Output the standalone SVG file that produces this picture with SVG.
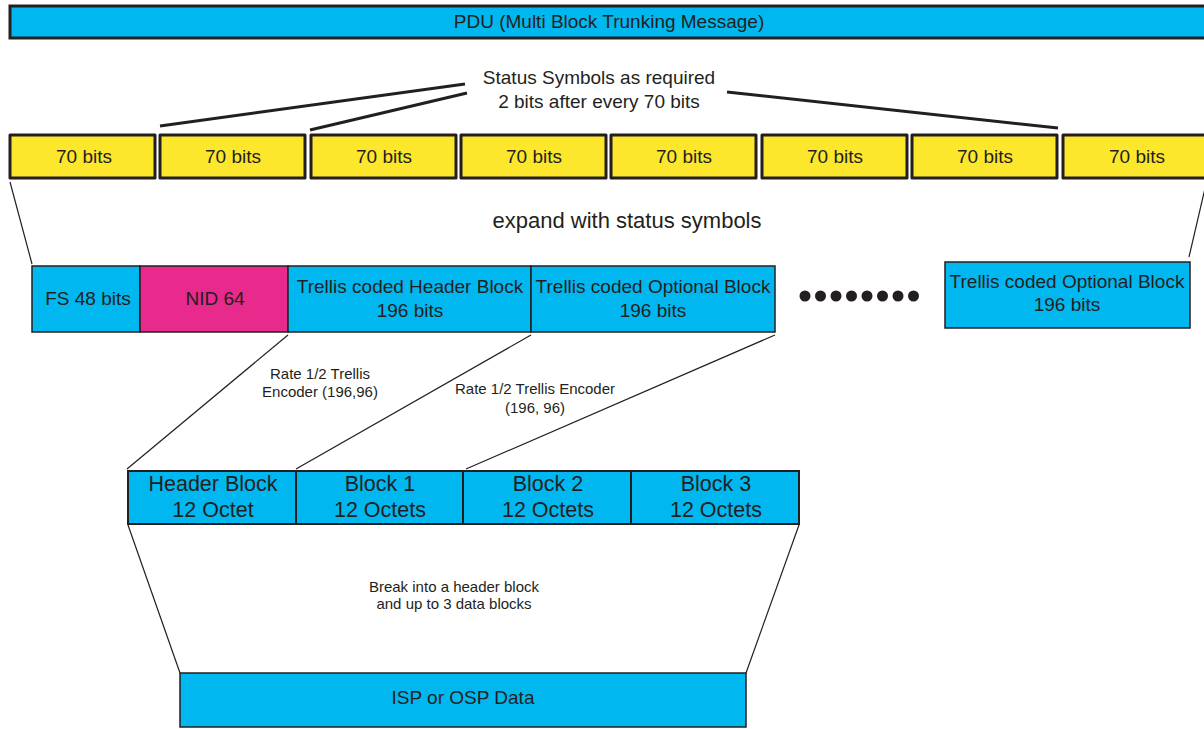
<svg xmlns="http://www.w3.org/2000/svg" width="1204" height="729" viewBox="0 0 1204 729">
<style>
text{font-family:"Liberation Sans",Arial,sans-serif;fill:#231f20;text-anchor:middle}
.cy{fill:#00b7f0;stroke:#231f20}
.ye{fill:#fce72c;stroke:#231f20;stroke-width:3;stroke-linejoin:round}
.mg{fill:#e72a8c;stroke:#231f20}
.thick{stroke:#231f20;stroke-width:3;fill:none}
.thin{stroke:#231f20;stroke-width:1.2;fill:none}
.t19{font-size:19px}
.t21{font-size:21.5px}
.t22{font-size:22px}
.t15{font-size:15px}
</style>
<rect width="1204" height="729" fill="#fff"/>
<g id="pdu"><rect class="cy" x="10" y="6" width="1200" height="32" stroke-width="3"/><text class="t19" x="609" y="28">PDU (Multi Block Trunking Message)</text></g>
<g id="bits">
<rect class="ye" x="10" y="135" width="145" height="43"/><text class="t19" x="84" y="163">70 bits</text>
<rect class="ye" x="160" y="135" width="145" height="43"/><text class="t19" x="233" y="163">70 bits</text>
<rect class="ye" x="311" y="135" width="145" height="43"/><text class="t19" x="384" y="163">70 bits</text>
<rect class="ye" x="461" y="135" width="145" height="43"/><text class="t19" x="534" y="163">70 bits</text>
<rect class="ye" x="611" y="135" width="145" height="43"/><text class="t19" x="684" y="163">70 bits</text>
<rect class="ye" x="762" y="135" width="145" height="43"/><text class="t19" x="835" y="163">70 bits</text>
<rect class="ye" x="912" y="135" width="145" height="43"/><text class="t19" x="985" y="163">70 bits</text>
<rect class="ye" x="1063" y="135" width="160" height="43"/><text class="t19" x="1137" y="163">70 bits</text>
</g>
<g id="status-label"><text class="t19" x="599" y="84">Status Symbols as required</text><text class="t19" x="599" y="108">2 bits after every 70 bits</text></g>
<g id="expand-label"><text class="t22" x="627" y="228">expand with status symbols</text></g>
<g id="fs"><rect class="cy" x="32" y="266" width="108" height="66" stroke-width="1.5"/><text class="t19" x="88" y="305">FS 48 bits</text></g>
<g id="nid"><rect class="mg" x="140" y="266" width="148" height="66" stroke-width="1.5"/><text class="t19" x="215" y="305">NID 64</text></g>
<g id="header-tc"><rect class="cy" x="288" y="266" width="243" height="66" stroke-width="1.5"/><text class="t19" x="410" y="293">Trellis coded Header Block</text><text class="t19" x="410" y="317">196 bits</text></g>
<g id="opt-tc"><rect class="cy" x="531" y="266" width="244" height="66" stroke-width="1.5"/><text class="t19" x="653" y="293">Trellis coded Optional Block</text><text class="t19" x="653" y="317">196 bits</text></g>
<g id="dots" fill="#231f20"><circle cx="805" cy="296" r="5.5"/><circle cx="820.5" cy="296" r="5.5"/><circle cx="836" cy="296" r="5.5"/><circle cx="851.5" cy="296" r="5.5"/><circle cx="867" cy="296" r="5.5"/><circle cx="882.5" cy="296" r="5.5"/><circle cx="898" cy="296" r="5.5"/><circle cx="913.5" cy="296" r="5.5"/></g>
<g id="opt-tc-last"><rect class="cy" x="945" y="262" width="245" height="66" stroke-width="1.5"/><text class="t19" x="1067" y="288">Trellis coded Optional Block</text><text class="t19" x="1067" y="311">196 bits</text></g>
<g id="enc-label-1"><text class="t15" x="320" y="379">Rate 1/2 Trellis</text><text class="t15" x="320" y="397">Encoder (196,96)</text></g>
<g id="enc-label-2"><text class="t15" x="535" y="394">Rate 1/2 Trellis Encoder</text><text class="t15" x="535" y="413">(196, 96)</text></g>
<g id="hb"><rect class="cy" x="128" y="471" width="168" height="53" stroke-width="2"/><text class="t21" x="213" y="491">Header Block</text><text class="t21" x="213" y="517">12 Octet</text></g>
<g id="b1"><rect class="cy" x="296" y="471" width="167" height="53" stroke-width="2"/><text class="t21" x="380" y="491">Block 1</text><text class="t21" x="380" y="517">12 Octets</text></g>
<g id="b2"><rect class="cy" x="463" y="471" width="168" height="53" stroke-width="2"/><text class="t21" x="548" y="491">Block 2</text><text class="t21" x="548" y="517">12 Octets</text></g>
<g id="b3"><rect class="cy" x="631" y="471" width="168" height="53" stroke-width="2"/><text class="t21" x="716" y="491">Block 3</text><text class="t21" x="716" y="517">12 Octets</text></g>
<g id="break-label"><text class="t15" x="454" y="592">Break into a header block</text><text class="t15" x="454" y="609">and up to 3 data blocks</text></g>
<g id="data"><rect class="cy" x="180" y="673" width="566" height="54" stroke-width="1.5"/><text class="t19" x="463" y="704">ISP or OSP Data</text></g>
<g id="connectors">
<line class="thick" x1="160" y1="126" x2="465" y2="84"/>
<line class="thick" x1="310" y1="130" x2="467" y2="93"/>
<line class="thick" x1="727" y1="92" x2="1058" y2="128"/>
<line class="thin" x1="10" y1="182" x2="32" y2="264"/>
<line class="thin" x1="1206" y1="184" x2="1189" y2="257"/>
<line class="thin" x1="288" y1="335" x2="127" y2="469"/>
<line class="thin" x1="531" y1="335" x2="296" y2="469"/>
<line class="thin" x1="775" y1="335" x2="466" y2="469"/>
<line class="thin" x1="128" y1="525" x2="180" y2="673"/>
<line class="thin" x1="799" y1="525" x2="746" y2="673"/>
</g>
</svg>
